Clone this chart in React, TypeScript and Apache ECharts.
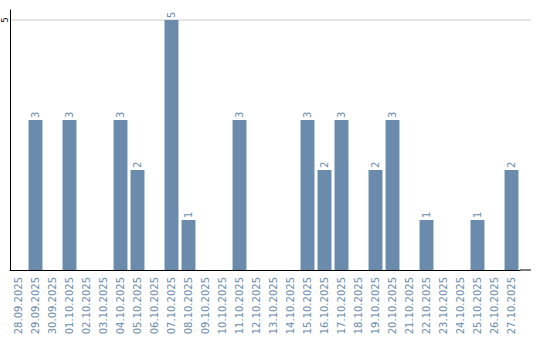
import React, { useEffect, useRef } from "react";
import * as echarts from "echarts";

const categories = [
  "28.09.2025", "29.09.2025", "30.09.2025", "01.10.2025", "02.10.2025", "03.10.2025",
  "04.10.2025", "05.10.2025", "06.10.2025", "07.10.2025", "08.10.2025", "09.10.2025",
  "10.10.2025", "11.10.2025", "12.10.2025", "13.10.2025", "14.10.2025", "15.10.2025",
  "16.10.2025", "17.10.2025", "18.10.2025", "19.10.2025", "20.10.2025", "21.10.2025",
  "22.10.2025", "23.10.2025", "24.10.2025", "25.10.2025", "26.10.2025", "27.10.2025",
];
const values = [0, 3, 0, 3, 0, 0, 3, 2, 0, 5, 1, 0, 0, 3, 0, 0, 0, 3, 2, 3, 0, 2, 3, 0, 1, 0, 0, 1, 0, 2];

const BAR = "#6a8bab";
const TXT = "#6a8bab";
const FONT = "DejaVu Sans";

export default function App() {
  const ref = useRef<HTMLDivElement>(null);
  useEffect(() => {
    if (!ref.current) return;
    const chart = echarts.init(ref.current, null, { renderer: "svg" });
    chart.setOption({
      animation: false,
      grid: { left: 10, right: 20, top: 10, bottom: 70, containLabel: false, outerBoundsMode: "none" },
      xAxis: {
        type: "category",
        data: categories,
        axisLine: { lineStyle: { color: "#000", width: 1 } },
        axisTick: { show: false },
        axisLabel: { rotate: 90, interval: 0, color: TXT, fontFamily: FONT, fontSize: 10, margin: 7 },
      },
      yAxis: {
        type: "value",
        min: 0,
        max: 5.2,
        interval: 5,
        axisLine: { show: true, lineStyle: { color: "#000", width: 1 } },
        axisTick: { show: false },
        splitLine: { show: false },
        axisLabel: {
          color: "#000",
          fontFamily: FONT,
          fontSize: 8,
          rotate: 90,
          margin: 1,
          formatter: (v: number) => (v === 5 ? "5" : ""),
        },
      },
      series: [
        {
          type: "bar",
          data: values.map((v) => (v === 0 ? null : v)),
          barCategoryGap: "18%",
          itemStyle: { color: BAR },
          label: {
            show: true,
            position: "top",
            rotate: 90,
            align: "left",
            verticalAlign: "middle",
            distance: 2,
            color: TXT,
            fontFamily: FONT,
            fontSize: 10,
          },
        },
      ],
    });
    const y0 = chart.convertToPixel({ yAxisIndex: 0 }, 0) as number;
    const y5 = chart.convertToPixel({ yAxisIndex: 0 }, 5) as number;
    const xEnd = chart.getWidth() - 20;
    chart.setOption({
      graphic: [
        { type: "line", z: -1, shape: { x1: 10, y1: y5, x2: 531, y2: y5 }, style: { stroke: "#cccccc", lineWidth: 1 }, silent: true },
        { type: "line", shape: { x1: xEnd, y1: y0, x2: 531, y2: y0 }, style: { stroke: "#000", lineWidth: 1 }, silent: true },
      ],
    });
    return () => chart.dispose();
  }, []);
  return <div ref={ref} style={{ width: 540, height: 340, position: "absolute", left: 0, top: 0 }} />;
}
